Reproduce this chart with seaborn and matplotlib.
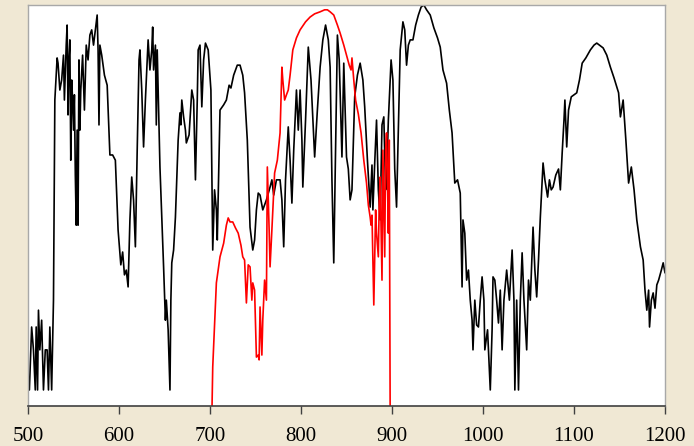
import matplotlib
matplotlib.use("Agg")
import matplotlib.pyplot as plt
import seaborn as sns
import numpy as np

# Black spectrum (wavelength, relative value 0-100)
black_x = [501.5, 504, 506, 508, 509, 510.5, 511.5, 513, 515, 517, 519, 521, 522.5, 524, 526,
           528, 529.5, 532, 533, 535, 537, 539, 540, 542, 543, 544, 545, 546, 547, 548, 549, 550,
           551, 552, 553, 554, 555, 556, 557, 558, 560, 562, 564, 566, 568, 570, 572, 574, 576,
           577, 578, 579, 581, 584, 587, 590, 593, 596, 599, 602, 604, 606, 608, 610, 612, 614,
           616, 618, 620, 622, 623, 625, 627, 629, 631, 632, 634, 636, 637, 638, 640, 641, 642,
           645, 649, 651, 652, 654, 656, 657, 658, 660, 662, 665, 667, 668, 669, 671, 673, 674,
           677, 680, 682, 684, 686, 687, 689, 691, 693, 695, 698, 701, 703, 705, 707, 708, 711,
           715, 718, 721, 723, 726, 730, 733, 736, 738, 741, 744, 747, 749, 751, 753, 755, 758,
           762, 766, 768, 770, 773, 777, 779, 781, 783, 786, 788, 790, 792, 795, 797, 799, 801,
           802, 805, 808, 811, 815, 818, 821, 824, 827, 830, 832, 834, 836, 838, 840, 842, 845,
           847, 850, 852, 854, 856, 859, 862, 865, 868, 870, 873, 876, 878, 879, 881, 883, 885,
           887, 889, 891, 893, 894, 896, 899, 901, 903, 905, 907, 909, 912, 914, 916, 918, 920,
           923, 926, 929, 932, 935, 938, 942, 946, 950, 953, 956, 960, 963, 966, 969, 972, 975,
           977, 978, 980, 982, 984, 986, 988, 989, 991, 993, 995, 997, 999, 1001, 1002, 1005,
           1008, 1010, 1011, 1013, 1015, 1017, 1019, 1021, 1023, 1026, 1029, 1032, 1034, 1035,
           1037, 1039, 1041, 1043, 1045, 1048, 1050, 1052, 1055, 1057, 1059, 1061, 1063, 1066,
           1068, 1071, 1073, 1075, 1077, 1080, 1083, 1085, 1087, 1089, 1090, 1092, 1094, 1097,
           1100, 1103, 1106, 1109, 1113, 1118, 1122, 1125, 1128, 1132, 1136, 1140, 1144, 1149,
           1151, 1154, 1157, 1160, 1163, 1166, 1169, 1173, 1176, 1178, 1180, 1182, 1183, 1185,
           1187, 1189, 1191, 1193, 1196, 1198, 1200]
black_y = [4.0, 19.7, 14.0, 4.0, 19.7, 4.0, 23.9, 14.0, 21.4, 4.0, 14.0, 14.0, 4.0, 19.7, 4.0,
           26.4, 76.3, 86.8, 85.5, 78.8, 81.3, 87.5, 76.3, 90.0, 95.0, 72.6, 86.3, 91.3, 61.3,
           81.3, 76.3, 68.8, 77.6, 57.6, 45.1, 68.8, 45.1, 86.3, 68.8, 78.8, 87.5, 73.8, 90.0,
           86.3, 92.5, 93.8, 90.0, 93.8, 97.5, 88.8, 70.1, 90.0, 87.5, 82.5, 80.0, 62.6, 62.6,
           61.3, 43.9, 35.2, 38.4, 32.7, 33.9, 29.7, 46.4, 57.1, 51.4, 39.7, 63.8, 86.3, 88.8,
           78.8, 64.6, 76.3, 86.3, 91.3, 83.8, 88.8, 94.5, 83.8, 90.0, 70.1, 88.8, 59.6, 34.7,
           21.4, 26.4, 19.0, 4.0, 26.4, 35.7, 38.9, 47.1, 66.3, 73.1, 70.1, 76.3, 72.1, 68.8,
           65.6, 67.6, 78.8, 76.3, 56.4, 76.3, 88.8, 90.0, 74.6, 86.3, 90.5, 88.8, 78.8, 38.9,
           53.9, 48.9, 41.4, 73.8, 75.1, 76.3, 80.0, 79.3, 82.5, 85.0, 85.0, 82.5, 78.1, 66.3,
           44.6, 38.9, 41.4, 48.9, 53.1, 52.6, 48.9, 51.4, 54.6, 56.4, 52.6, 56.4, 56.4, 51.4,
           39.7, 56.4, 69.6, 61.3, 50.6, 63.8, 78.8, 68.8, 78.8, 66.3, 54.6, 71.3, 89.5, 81.3,
           62.1, 73.8, 84.5, 91.3, 95.0, 91.3, 84.5, 56.4, 35.7, 63.8, 92.5, 86.3, 62.1, 85.5,
           62.1, 59.1, 51.4, 53.9, 77.1, 82.5, 85.5, 81.3, 74.6, 61.3, 49.6, 60.1, 48.9, 60.6,
           71.3, 53.9, 46.4, 70.1, 72.1, 53.9, 56.4, 71.3, 86.3, 81.3, 59.1, 49.6, 68.8, 88.8,
           95.8, 93.8, 85.0, 90.0, 91.3, 91.3, 95.0, 97.5, 99.5, 100.0, 98.8, 97.5, 94.3, 91.8,
           89.5, 83.8, 80.5, 73.8, 68.1, 55.6, 56.4, 53.1, 29.7, 46.4, 43.1, 31.4, 33.9, 26.4,
           21.4, 14.0, 26.4, 20.2, 19.7, 26.4, 32.2, 26.4, 14.0, 19.0, 4.0, 19.0, 32.2, 31.4,
           26.4, 20.7, 28.9, 14.0, 26.4, 33.9, 26.4, 38.9, 26.4, 4.0, 26.4, 4.0, 26.4, 38.2,
           26.4, 14.0, 31.4, 26.4, 44.6, 33.9, 27.2, 36.4, 47.1, 60.6, 56.4, 52.1, 56.4, 53.9,
           54.6, 57.6, 59.1, 53.9, 63.1, 71.3, 76.3, 64.6, 73.8, 77.1, 77.6, 78.1, 81.3, 85.5,
           86.8, 88.8, 90.0, 90.5, 90.0, 89.3, 87.5, 84.5, 81.8, 78.1, 72.1, 76.3, 66.3, 55.6,
           59.6, 53.9, 46.4, 39.7, 36.4, 28.9, 23.9, 28.9, 19.7, 26.4, 28.2, 24.4, 30.2, 31.4,
           33.9, 35.7, 33.2]

# Red spectrum
red_x = [702, 703, 707, 711, 715, 718, 720, 722, 725, 728, 731, 734, 736, 738, 740, 742, 744,
         746, 747, 749, 751, 753, 754, 755, 757, 758, 760, 762, 763, 765, 766, 768, 771, 774,
         777, 779, 780, 782, 784, 786, 788, 791, 795, 799, 805, 810, 815, 821, 826, 829, 832,
         836, 840, 843, 847, 850, 853, 855, 856, 858, 860, 863, 866, 869, 872, 874, 876, 877,
         878, 880, 882, 883, 885, 886, 887, 889, 890, 892, 893, 894, 895, 896, 897, 898]
red_y = [-3, 9.7, 30.7, 37.2, 40.6, 45.1, 46.9, 45.9, 45.9, 44.4, 43.1, 40.1, 37.2, 36.4, 25.7,
         35.2, 34.7, 26.4, 30.7, 28.9, 12.2, 12.7, 11.5, 24.7, 12.7, 21.4, 31.4, 26.4, 59.6,
         43.9, 34.7, 43.9, 58.1, 61.3, 68.1, 84.5, 81.3, 76.3, 77.6, 78.8, 82.5, 88.8, 91.8,
         93.8, 95.8, 97.0, 97.8, 98.3, 98.8, 98.8, 98.3, 97.5, 95.0, 93.0, 90.0, 87.5, 85.0,
         83.8, 86.8, 81.3, 76.3, 72.8, 68.1, 61.3, 55.6, 50.1, 47.1, 45.1, 47.6, 25.2, 48.9,
         43.1, 37.2, 51.4, 57.1, 31.4, 63.8, 37.2, 63.8, 68.1, 56.4, 43.1, 66.3, -3]

xticks = [500, 600, 700, 800, 900, 1000, 1100, 1200]

sns.set_theme(style="white")
plt.rcParams['font.family'] = ['Liberation Serif', 'DejaVu Serif']

fig = plt.figure(figsize=(6.94, 4.46), dpi=100, facecolor='#F0E8D4')
ax = fig.add_axes([28/694, 40/446, 637/694, 401/446])
ax.set_facecolor('white')

sns.lineplot(x=black_x, y=black_y, color='black', linewidth=1.2, estimator=None, sort=False, ax=ax)
sns.lineplot(x=red_x, y=red_y, color='#FF0000', linewidth=1.2, estimator=None, sort=False, ax=ax)

ax.set_xlim(500, 1200)
ax.set_ylim(0, 100)
ax.set_xticks(xticks)
ax.set_xticklabels([str(t) for t in xticks])
ax.set_yticks([])
for s in ['top', 'left', 'right']:
    ax.spines[s].set_color('#A8A8A8')
    ax.spines[s].set_linewidth(1.0)
ax.spines['bottom'].set_color('#404040')
ax.spines['bottom'].set_linewidth(1.2)
ax.tick_params(axis='x', direction='out', length=6, width=1.0, color='#404040',
               pad=9, labelsize=15, labelcolor='black', bottom=True)
ax.set_xlabel('')
ax.set_ylabel('')

fig.savefig('out.png', dpi=100, facecolor=fig.get_facecolor())
